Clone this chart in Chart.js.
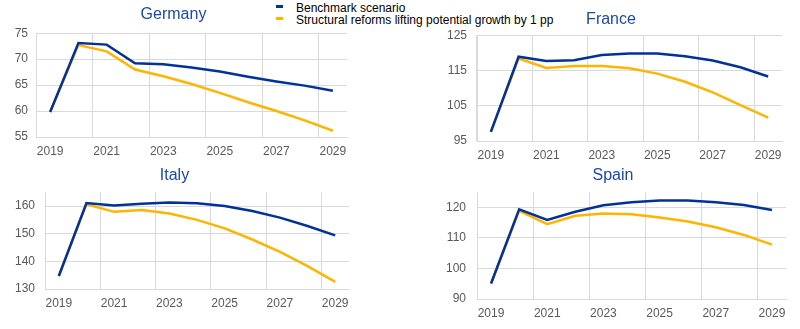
<!DOCTYPE html>
<html lang="en">
<head>
    <meta charset="UTF-8">
    <title>Debt scenarios</title>
    <script src="https://cdn.jsdelivr.net/npm/chart.js"></script>
    <style>
        html, body { margin: 0; padding: 0; background: #fff; overflow: hidden; }
        body { width: 800px; height: 329px; position: relative; font-family: 'Liberation Sans', Arial, sans-serif; }
        .panel { position: absolute; }
        .legend { position: absolute; left: 276px; top: 0; font-size: 12px; color: #000; line-height: 12px; }
        .legend div { position: relative; padding-left: 20px; height: 12px; white-space: nowrap; }
        .legend span { position: absolute; left: 0; top: 3px; width: 7px; height: 3px; }
    </style>
</head>
<body>
    <div class="legend" style="top:2px">
        <div><span style="background:#003299"></span>Benchmark scenario</div>
        <div><span style="background:#ffb400"></span>Structural reforms lifting potential growth by 1 pp</div>
    </div>
    <div class="panel" style="left:0;top:0;width:354px;height:165px"><canvas id="germany"></canvas></div>
    <div class="panel" style="left:440px;top:0;width:362px;height:169px"><canvas id="france"></canvas></div>
    <div class="panel" style="left:0;top:160px;width:372px;height:157px"><canvas id="italy"></canvas></div>
    <div class="panel" style="left:440px;top:160px;width:378px;height:167px"><canvas id="spain"></canvas></div>

    <script>
        // years on the x axis
        const years = ['2019', '2020', '2021', '2022', '2023', '2024', '2025', '2026', '2027', '2028', '2029'];

        // debt ratios, % of GDP
        const germanyBench  = [59.8, 73.1, 72.8, 69.2, 69.0, 68.4, 67.6, 66.6, 65.7, 64.9, 63.9];
        const germanyReform = [59.8, 72.7, 71.5, 68.0, 66.7, 65.2, 63.5, 61.7, 60.0, 58.2, 56.2];
        const franceBench   = [97.6, 118.9, 117.7, 117.9, 119.4, 119.8, 119.8, 119.0, 117.8, 115.9, 113.3];
        const franceReform  = [97.6, 118.4, 115.7, 116.3, 116.3, 115.6, 114.1, 111.8, 108.8, 105.2, 101.6];
        const italyBench    = [134.7, 161.1, 160.2, 160.8, 161.3, 161.0, 160.0, 158.2, 155.8, 152.8, 149.4];
        const italyReform   = [134.7, 160.6, 157.9, 158.6, 157.3, 155.0, 151.9, 147.9, 143.4, 138.3, 132.6];
        const spainBench    = [95.1, 119.4, 115.9, 118.6, 120.7, 121.7, 122.3, 122.3, 121.7, 120.8, 119.2];
        const spainReform   = [95.1, 118.9, 114.5, 117.3, 118.0, 117.8, 116.7, 115.4, 113.5, 111.0, 107.8];

        const FONT = "'Liberation Sans', Arial, sans-serif";
        const GRID = '#d9d9d9';

        function makePanel(id, title, bench, reform, yMin, yMax, yStep, g) {
            new Chart(document.getElementById(id), {
                type: 'line',
                data: {
                    labels: years,
                    datasets: [{
                        label: 'Benchmark scenario',
                        data: bench,
                        borderColor: '#003299',
                        borderWidth: 2.5,
                        pointRadius: 0,
                        tension: 0
                    }, {
                        label: 'Structural reforms lifting potential growth by 1 pp',
                        data: reform,
                        borderColor: '#ffb400',
                        borderWidth: 2.5,
                        pointRadius: 0,
                        tension: 0
                    }]
                },
                options: {
                    responsive: true,
                    maintainAspectRatio: false,
                    animation: false,
                    layout: { padding: { left: 0, right: g.right, top: 0, bottom: 0 } },
                    plugins: {
                        legend: { display: false },
                        tooltip: { enabled: false },
                        title: {
                            display: true,
                            text: title,
                            color: '#1d48aa',
                            font: { family: FONT, size: 16, weight: 'normal' },
                            padding: { top: g.titleTop, bottom: g.titleBottom }
                        }
                    },
                    scales: {
                        x: {
                            type: 'category',
                            offset: true,
                            grid: {
                                offset: true,
                                drawTicks: false,
                                // a line at every second category boundary, as in the source
                                color: ctx => (ctx.index !== undefined && ctx.index % 2 === 0) ? GRID : 'rgba(0,0,0,0)'
                            },
                            border: { color: GRID },
                            ticks: {
                                autoSkip: false,
                                maxRotation: 0,
                                padding: 7,
                                color: '#595959',
                                font: { family: FONT, size: 12 },
                                callback: function (v, i) { return i % 2 === 0 ? this.getLabelForValue(v) : ''; }
                            },
                            afterFit: s => { s.height = 28; }
                        },
                        y: {
                            min: yMin,
                            max: yMax,
                            grid: { color: GRID, drawTicks: false },
                            border: { color: GRID },
                            ticks: {
                                stepSize: yStep,
                                padding: g.yPad,
                                color: '#595959',
                                font: { family: FONT, size: 12 }
                            },
                            afterBuildTicks: s => {
                                s.ticks = s.ticks.filter(t => Math.abs((t.value - yMin) % yStep) < 1e-6);
                            },
                            afterFit: s => { s.width = g.yWidth; }
                        }
                    }
                }
            });
        }

        makePanel('germany', 'Germany', germanyBench, germanyReform, 55, 75, 5,
            { right: 7, titleTop: 5, titleBottom: 9, yWidth: 36, yPad: 8 });
        makePanel('france', 'France', franceBench, franceReform, 95, 125, 10,
            { right: 20, titleTop: 10, titleBottom: 6, yWidth: 37, yPad: 10 });
        makePanel('italy', 'Italy', italyBench, italyReform, 130, 165, 10,
            { right: 23, titleTop: 6, titleBottom: 7, yWidth: 45, yPad: 10 });
        makePanel('spain', 'Spain', spainBench, spainReform, 90, 125, 10,
            { right: 32, titleTop: 6, titleBottom: 7, yWidth: 37, yPad: 11 });
    </script>
</body>
</html>
